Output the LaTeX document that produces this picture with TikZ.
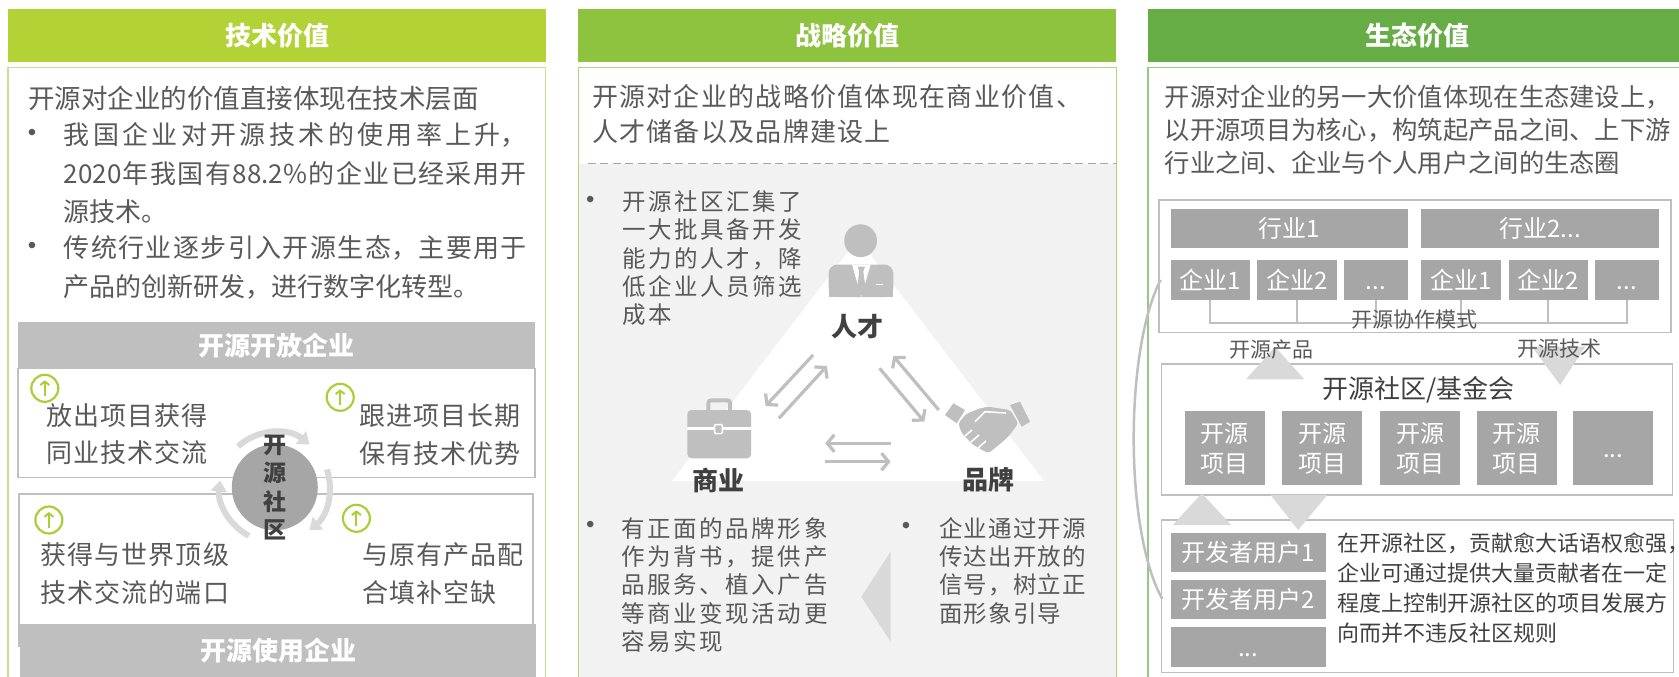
\documentclass[tikz,border=0pt]{standalone}
\usepackage{fontspec}
\usepackage{tikz}
\usetikzlibrary{arrows.meta,calc}
\setmainfont{Noto Sans CJK SC}
\newfontfamily\cjksemi{Noto Sans CJK SC}[LetterSpace=4]
\newfontfamily\cjkmidsp{Noto Sans CJK SC}[LetterSpace=5]
\newfontfamily\cjkwide{Noto Sans CJK SC}[LetterSpace=11]
\newfontfamily\bulletfont{Liberation Sans}
\XeTeXlinebreaklocale "zh"
\XeTeXlinebreakskip=0pt plus 4pt
\tolerance=10000
\newcommand{\moredots}{\vphantom{企}...}

\definecolor{techgreen}{HTML}{B2D235}
\definecolor{stratgreen}{HTML}{8DC33F}
\definecolor{ecogreen}{HTML}{66AD45}
\definecolor{techline}{HTML}{C9E190}
\definecolor{stratline}{HTML}{ADD582}
\definecolor{ecoline}{HTML}{93C985}
\definecolor{textgray}{HTML}{595959}
\definecolor{deepgray}{HTML}{404040}
\definecolor{bargray}{HTML}{BFBFBF}
\definecolor{boxgray}{HTML}{A6A6A6}
\definecolor{palegray}{HTML}{D9D9D9}
\definecolor{panelgray}{HTML}{F2F2F2}
\definecolor{icongreen}{HTML}{A8CF38}

\begin{document}
\begin{tikzpicture}[x=1pt, y=-1pt,
  head/.style   = {anchor=north west, inner sep=0pt, minimum width=538pt, minimum height=53.5pt,
                   text=white, font=\fontsize{26}{30}\selectfont\bfseries},
  frame/.style  = {line width=1.2pt},
  txt/.style    = {anchor=west, inner sep=0pt, align=left, text=textgray},
  dot/.style    = {inner sep=0pt, text=textgray, font=\bulletfont\fontsize{24}{24}\selectfont},
  bar/.style    = {anchor=north west, inner sep=0pt, fill=bargray, text=white,
                   font=\fontsize{26}{30}\selectfont\bfseries},
  upicon/.style = {circle, draw=icongreen, line width=2.2pt, minimum size=27pt, inner sep=0pt,
                   path picture={\draw[icongreen, line width=2pt, -{Straight Barb[length=3.5pt,width=9pt]}]
                     ([yshift=-8pt]path picture bounding box.center) -- ([yshift=8pt]path picture bounding box.center);}},
  turn/.style   = {draw=palegray, line width=6pt, -{Triangle[length=11pt,width=16pt]}},
  role/.style   = {inner sep=0pt, text=deepgray, font=\fontsize{26}{30}\selectfont\bfseries},
  flow/.style   = {draw=bargray, line width=3.2pt, -{Straight Barb[length=7pt,width=17pt]}},
  gbox/.style   = {anchor=north west, inner sep=0pt, fill=boxgray, text=white, align=center,
                   font=\fontsize{24}{30}\selectfont},
  tag/.style    = {inner sep=0pt, text=textgray, font=\fontsize{21}{24}\selectfont},
  comb/.style   = {draw=bargray, line width=2pt}]
  \useasboundingbox (0,0) rectangle (1679,677);

  % technology column
  \node[head, fill=techgreen] (h1) at (7.9,8.5) {技术价值};
  \draw[frame, draw=techline] (7.9,67.5) rectangle (545.7,690);
  \node[txt, font=\fontsize{26.5}{30}\selectfont] (t1) at (28,98.3) {开源对企业的价值直接体现在技术层面};
  \node[dot] (d1) at (32,135) {•};
  \node[txt, text width=463pt, align=justify, font=\fontsize{26}{38.3}\selectfont] (p1) at (63.6,173.3)
    {我国企业对开源技术的使用率上升，2020年我国有88.2\%的企业已经采用开源技术。};
  \node[dot] (d2) at (32,248.3) {•};
  \node[txt, text width=463pt, align=justify, font=\fontsize{26}{38.3}\selectfont] (p2) at (63.6,267.5)
    {传统行业逐步引入开源生态，主要用于产品的创新研发，进行数字化转型。};

  \node[bar, minimum width=516.5pt, minimum height=46.6pt] (open) at (18,321.7) {开源开放企业};
  \draw[frame, draw=bargray] (18,368.3) rectangle (535,477.3);
  \draw[frame, draw=bargray] (19,494) rectangle (533,646.7);
  \node[bar, minimum width=516pt, minimum height=54pt] (use) at (20,623.3) {开源使用企业};

  \foreach \n/\x/\y in {1/44.8/388.3, 2/340.2/397.3, 3/48.9/520, 4/356.4/518.3}
    \node[upicon] (up\n) at (\x,\y) {};
  \node[txt, font=\cjksemi\fontsize{26}{37.7}\selectfont] (s1) at (46.5,434) {放出项目获得\\同业技术交流};
  \node[txt, font=\cjksemi\fontsize{26}{37.7}\selectfont] (s2) at (358.8,434.7) {跟进项目长期\\保有技术优势};
  \node[txt, font=\cjksemi\fontsize{26}{37.7}\selectfont] (s3) at (40.6,573.3) {获得与世界顶级\\技术交流的端口};
  \node[txt, font=\cjksemi\fontsize{26}{37.7}\selectfont] (s4) at (362.3,573.3) {与原有产品配\\合填补空缺};

  \node[circle, fill=boxgray, minimum size=86pt, inner sep=0pt] (hub) at (274.8,487.3) {};
  \draw[turn] ([shift={(118:55)}]hub.center) arc[start angle=118, end angle=187, radius=55];
  \draw[turn] ([shift={(228:55)}]hub.center) arc[start angle=228, end angle=309, radius=55];
  \draw[turn] ([shift={(341:55)}]hub.center) arc[start angle=341, end angle=411, radius=55];
  \node[align=center, inner sep=0pt, text=deepgray, font=\fontsize{23}{28.3}\selectfont\bfseries] (hubt)
    at (274.8,487.5) {开\\源\\社\\区};

  % strategy column
  \node[head, fill=stratgreen] (h2) at (578.1,8.5) {战略价值};
  \fill[panelgray] (578.1,163.5) rectangle (1116.4,690);
  \draw[frame, draw=stratline] (578.1,67.5) rectangle (1116.4,690);
  \draw[draw=boxgray, line width=1.8pt, dash pattern=on 8pt off 4.5pt] (587.5,163.5) -- (1116,163.5);
  \node[txt, font=\cjkmidsp\fontsize{26}{35}\selectfont] (t2) at (591.8,114.2)
    {开源对企业的战略价值体现在商业价值、\\人才储备以及品牌建设上};
  \fill[white] (672,481) -- (1044,481) -- (858,238.5) -- cycle;

  \node[dot] (d3) at (590.3,201.7) {•};
  \node[txt, font=\cjkwide\fontsize{23.5}{28.4}\selectfont] (p3) at (622,258.3)
    {开源社区汇集了\\一大批具备开发\\能力的人才，降\\低企业人员筛选\\成本};
  \node[dot] (d4) at (590.3,526.7) {•};
  \node[txt, font=\cjkwide\fontsize{23.5}{28.4}\selectfont] (p4) at (621.3,585)
    {有正面的品牌形象\\作为背书，提供产\\品服务、植入广告\\等商业变现活动更\\容易实现};
  \node[dot] (d5) at (906,528.3) {•};
  \node[txt, font=\cjkmidsp\fontsize{23.5}{28.4}\selectfont] (p5) at (938.8,570.8)
    {企业通过开源\\传达出开放的\\信号，树立正\\面形象引导};
  \fill[palegray] (890.6,551.7) -- (890.6,641.7) -- (861.3,596.7) -- cycle;

  % talent icon
  \fill[bargray] (860.6,240.7) circle[radius=16.4];
  \fill[bargray, rounded corners=9pt] (828.6,264.5) rectangle (893.3,297);
  \fill[bargray] (828.6,280) rectangle (893.3,297);
  \fill[white] (852,264.5) -- (870.6,264.5) -- (861.3,297) -- cycle;
  \fill[bargray] (857.6,266.5) -- (865,266.5) -- (863.3,271.5) -- (865.8,290) -- (861.3,295.5)
    -- (856.8,290) -- (859.3,271.5) -- cycle;
  \draw[white, line width=1.8pt] (876,284.5) -- (883,284.5);
  % business icon
  \draw[bargray, line width=4pt, rounded corners=3pt] (708.3,412) -- (708.3,400.3) -- (730.2,400.3) -- (730.2,412);
  \fill[bargray, rounded corners=4pt] (687.4,410) rectangle (751.1,458.3);
  \draw[white, line width=2.4pt] (687.4,428.5) -- (751.1,428.5);
  \filldraw[fill=bargray, draw=white, line width=1.5pt, rounded corners=1pt] (714.5,424.5) rectangle (722.3,433.5);
  % brand icon
  \fill[bargray] (945,415) -- (953.3,403.3) -- (965,410) -- (956.7,423.3) -- cycle;
  \fill[bargray] (1010,405) -- (1020,401.7) -- (1030,421.7) -- (1021.7,426.7) -- cycle;
  \fill[bargray, rounded corners=3pt] (958.3,423.3) -- (966,414) -- (980,408.3) -- (988.3,406.7) -- (1010,410)
    -- (1018.3,423.3) -- (1008.3,436.7) -- (996.7,446.7) -- (988.3,453.3) -- (973.3,445) -- (961.7,433.3) -- cycle;
  \draw[white, line width=1.6pt] (975,421.7) -- (985,411.7) -- (1006,413)
    (965,436) -- (972,430) (971,442) -- (979,435) (978,448) -- (986,441);

  \node[role] (talent) at (857.9,326.7) {人才};
  \node[role] (biz) at (718.4,480) {商业};
  \node[role] (brand) at (988.7,480) {品牌};

  \coordinate (a1s) at (813.1,355);   \coordinate (a1e) at (765.6,406);
  \coordinate (a2s) at (779,418.3);   \coordinate (a2e) at (826.9,366);
  \coordinate (a3s) at (938.8,410);   \coordinate (a3e) at (893.3,356);
  \coordinate (a4s) at (879.6,368.3); \coordinate (a4e) at (924.3,421.7);
  \coordinate (a5s) at (890.6,443.3); \coordinate (a5e) at (825.2,443.3);
  \coordinate (a6s) at (825.2,461.7); \coordinate (a6e) at (890.6,461.7);
  \foreach \s/\e in {a1s/a1e, a2s/a2e, a3s/a3e, a4s/a4e, a5s/a5e, a6s/a6e}
    \draw[flow] (\s) -- (\e);

  % ecology column
  \node[head, fill=ecogreen] (h3) at (1148,8.5) {生态价值};
  \draw[frame, draw=ecoline] (1148,67.5) rectangle (1686,690);
  \node[txt, font=\fontsize{25.3}{33.3}\selectfont] (t3) at (1164.6,130)
    {开源对企业的另一大价值体现在生态建设上，\\以开源项目为核心，构筑起产品之间、上下游\\行业之间、企业与个人用户之间的生态圈};

  \draw[frame, draw=bargray] (1158.9,200) rectangle (1671,332.7);
  \node[gbox, minimum width=237.1pt, minimum height=39pt] (ind1) at (1170.3,208.3) {行业1};
  \node[gbox, minimum width=237.2pt, minimum height=39pt] (ind2) at (1421.2,208.3) {行业2...};
  \foreach \n/\x/\w/\t in {e1/1170.3/79/企业1, e2/1256.9/79.7/企业2, e3/1343.5/63.9/\moredots,
                           e4/1421.2/79.1/企业1, e5/1508.5/79.1/企业2, e6/1594.5/63.9/\moredots}
    \node[gbox, minimum width=\w pt, minimum height=39.3pt] (\n) at (\x,260) {\t};
  \coordinate (cb) at (1414.5,322.7);
  \draw[comb] (e1.south) -- (e1.south |- cb) -- (e6.south |- cb) -- (e6.south);
  \foreach \n in {e2,e3,e4,e5}
    \draw[comb] (\n.south) -- (\n.south |- cb);
  \node[tag] (mode) at (1414.5,320) {开源协作模式};

  \draw[frame, draw=bargray] (1161.3,364) rectangle (1672.8,495);
  \fill[palegray] (1245.9,379.3) -- (1304.3,379.3) -- (1275.1,346.7) -- cycle;
  \fill[palegray] (1531.9,346.7) -- (1585.2,346.7) -- (1560.1,385) -- cycle;
  \node[tag] (prod) at (1271.8,349.3) {开源产品};
  \node[tag] (tech) at (1559,348.3) {开源技术};
  \node[inner sep=0pt, text=deepgray, font=\fontsize{26}{30}\selectfont] (comm) at (1418.4,389.3) {开源社区/基金会};
  \foreach \n/\x in {q1/1184.7, q2/1282, q3/1380, q4/1476.9}
    \node[gbox, minimum width=79.7pt, minimum height=74.3pt] (\n) at (\x,410.7) {开源\\项目};
  \node[gbox, minimum width=79.8pt, minimum height=74.3pt] (q5) at (1573.1,410.7) {\moredots};

  \draw[frame, draw=bargray] (1161.3,520) rectangle (1673.5,672.7);
  \fill[palegray] (1172.7,525) -- (1231.1,525) -- (1201.9,493.3) -- cycle;
  \fill[palegray] (1270.6,495) -- (1327.3,495) -- (1298.1,530) -- cycle;
  \node[gbox, minimum width=155.3pt, minimum height=39.4pt] (u1) at (1170.3,532.3) {开发者用户1};
  \node[gbox, minimum width=155.3pt, minimum height=39pt] (u2) at (1170.3,579.3) {开发者用户2};
  \node[gbox, minimum width=155.3pt, minimum height=40pt] (u3) at (1170.3,626.7) {\moredots};
  \node[txt, text=deepgray, font=\fontsize{22}{29.8}\selectfont] (say) at (1337.7,588)
    {在开源社区，贡献愈大话语权愈强，\\企业可通过提供大量贡献者在一定\\程度上控制开源社区的项目发展方\\向而并不违反社区规则};
  \draw[draw=bargray, line width=2.5pt] ([xshift=-9.7pt]e1.west) .. controls +(-36,70) and +(-38,-68) .. ([xshift=-8pt]u2.west);
\end{tikzpicture}
\end{document}
